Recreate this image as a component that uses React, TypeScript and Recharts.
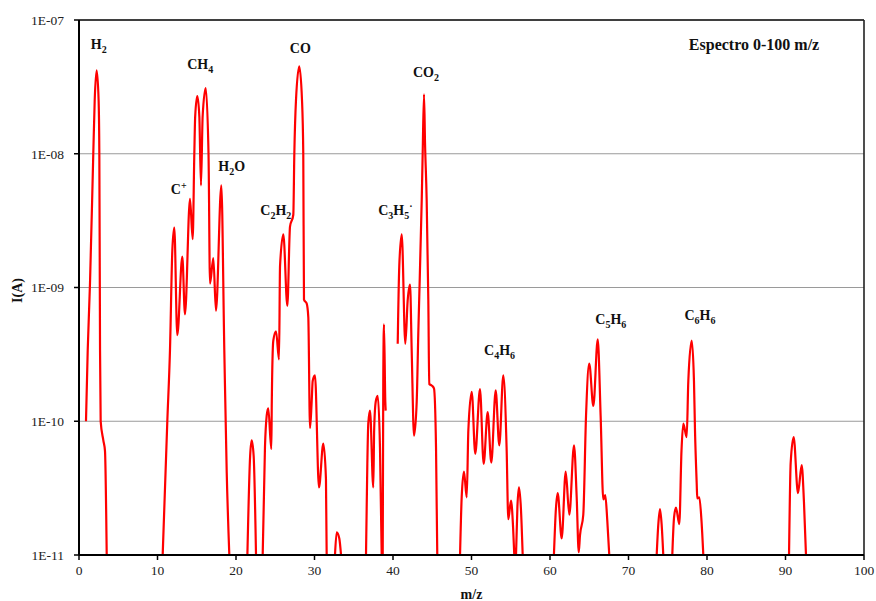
import {
  LineChart,
  Line,
  XAxis,
  YAxis,
  CartesianGrid,
  ReferenceLine,
  ReferenceDot,
} from "recharts";

type Pt = [number, number];

// [m/z, I(A)] — each band is one unbroken stretch of the trace above 1E-11
const h2Band: Pt[] = [
  [0.89, 1.0e-10], [1.11, 3.4e-10], [1.4, 1.07e-9], [1.82, 1.0e-8],
  [2.0, 2.5e-8], [2.25, 4.2e-8], [2.5, 2.5e-8], [2.59, 1.0e-8],
  [2.68, 3.4e-10], [2.76, 1.0e-10], [3.1, 7.2e-11], [3.31, 6.0e-11],
  [3.53, 1.0e-11],
];

const ch4Band: Pt[] = [
  [10.66, 1.0e-11], [11.25, 1.0e-10], [11.59, 3.4e-10], [11.89, 1.9e-9],
  [12.14, 2.8e-9], [12.52, 4.4e-10], [13.16, 1.7e-9], [13.5, 6.3e-10],
  [14.14, 4.6e-9], [14.48, 2.3e-9], [14.69, 1.0e-8], [14.8, 1.9e-8],
  [15.07, 2.7e-8], [15.33, 1.9e-8], [15.54, 5.8e-9], [15.75, 1.9e-8],
  [16.14, 3.1e-8], [16.5, 1.0e-8], [16.69, 1.07e-9], [17.11, 1.66e-9],
  [17.45, 6.7e-10], [18.13, 5.8e-9], [18.51, 3.4e-10], [18.82, 4.1e-11],
  [19.15, 1.0e-11],
];

const m22Band: Pt[] = [
  [21.45, 1.0e-11], [21.8, 5.5e-11], [22.0, 7.2e-11], [22.25, 5.5e-11],
  [22.55, 1.0e-11],
];

const coBand: Pt[] = [
  [23.4, 1.0e-11], [23.69, 6.4e-11], [23.91, 1.1e-10], [24.11, 1.25e-10],
  [24.5, 6.2e-11], [24.56, 1.4e-10], [24.75, 4.0e-10], [25.1, 4.7e-10],
  [25.48, 2.9e-10], [25.61, 1.45e-9], [26.03, 2.5e-9], [26.54, 7.3e-10],
  [26.88, 2.85e-9], [27.3, 3.5e-9], [27.43, 1.0e-8], [27.64, 2.5e-8],
  [28.06, 4.5e-8], [28.41, 2.5e-8], [28.57, 1.0e-8], [28.66, 8.1e-10],
  [29.0, 7.6e-10], [29.21, 6.0e-10], [29.43, 8.9e-11], [29.64, 1.4e-10],
  [29.77, 2.0e-10], [30.06, 2.2e-10], [30.57, 3.2e-11], [31.12, 6.8e-11],
  [31.46, 3.7e-11], [31.55, 1.0e-11],
];

const m33Band: Pt[] = [
  [32.61, 1.0e-11], [32.83, 1.48e-11], [33.16, 1.33e-11], [33.38, 1.0e-11],
];

const m37Band: Pt[] = [
  [36.56, 1.0e-11], [36.73, 4.8e-11], [36.85, 9.6e-11], [37.07, 1.2e-10],
  [37.49, 3.2e-11], [37.6, 8.6e-11], [37.8, 1.4e-10], [38.05, 1.55e-10],
  [38.34, 6.4e-11], [38.56, 1.0e-11],
];

const m39Band: Pt[] = [
  [38.69, 1.0e-11], [38.76, 2.0e-10], [38.85, 5.3e-10], [39.02, 1.4e-10],
  [39.07, 1.2e-10],
];

const co2Band: Pt[] = [
  [40.6, 3.8e-10], [40.8, 1.45e-9], [41.11, 2.5e-9], [41.57, 3.8e-10],
  [41.87, 8.0e-10], [42.17, 1.05e-9], [42.38, 3.4e-10], [42.68, 7.8e-11],
  [43.02, 1.4e-10], [43.22, 4.5e-10], [43.66, 4.5e-9], [43.78, 1.0e-8],
  [43.95, 2.78e-8], [44.08, 1.2e-8], [44.29, 4.5e-9], [44.5, 8.0e-10],
  [44.62, 1.9e-10], [44.93, 1.85e-10], [45.22, 1.76e-10], [45.48, 6.4e-11],
  [45.64, 1.0e-11],
];

const c4h6Band: Pt[] = [
  [48.54, 1.0e-11], [48.75, 2.7e-11], [49.04, 4.2e-11], [49.39, 2.7e-11],
  [49.6, 8.6e-11], [50.03, 1.66e-10], [50.48, 5.7e-11], [51.08, 1.74e-10],
  [51.55, 4.8e-11], [52.06, 1.17e-10], [52.52, 4.9e-11], [53.08, 1.7e-10],
  [53.54, 6.6e-11], [54.05, 2.2e-10], [54.47, 6.4e-11], [54.69, 1.85e-11],
  [55.03, 2.55e-11], [55.3, 1.6e-11], [55.45, 1.0e-11],
];

const m56Band: Pt[] = [
  [55.67, 1.0e-11], [55.85, 2.3e-11], [56.05, 3.2e-11], [56.3, 2.2e-11],
  [56.52, 1.0e-11],
];

const c5h6Band: Pt[] = [
  [60.5, 1.0e-11], [60.75, 2.2e-11], [60.98, 2.9e-11], [61.49, 1.33e-11],
  [62.0, 4.2e-11], [62.46, 2.0e-11], [63.06, 6.6e-11], [63.4, 2.7e-11],
  [63.66, 1.05e-11], [63.82, 1.4e-11], [64.24, 2.0e-11], [64.59, 1.1e-10],
  [65.0, 2.7e-10], [65.52, 1.3e-10], [66.08, 4.1e-10], [66.45, 1.1e-10],
  [66.79, 2.6e-11], [67.04, 2.8e-11], [67.3, 1.8e-11], [67.55, 1.0e-11],
];

const m74Band: Pt[] = [
  [73.59, 1.0e-11], [73.8, 1.7e-11], [74.01, 2.2e-11], [74.22, 1.7e-11],
  [74.43, 1.0e-11],
];

const c6h6Band: Pt[] = [
  [75.58, 1.0e-11], [75.8, 1.9e-11], [76.05, 2.26e-11], [76.47, 1.7e-11],
  [76.75, 6.0e-11], [76.98, 9.6e-11], [77.41, 7.6e-11], [77.62, 2.0e-10],
  [78.05, 4.0e-10], [78.34, 2.0e-10], [78.47, 8.6e-11], [78.69, 3.4e-11],
  [78.76, 2.65e-11], [79.02, 2.7e-11], [79.3, 1.8e-11], [79.53, 1.0e-11],
];

const m91Band: Pt[] = [
  [90.45, 1.0e-11], [90.66, 4.9e-11], [91.04, 7.6e-11], [91.59, 2.9e-11],
  [92.06, 4.7e-11], [92.35, 2.5e-11], [92.61, 1.0e-11],
];

const bands = [
  h2Band, ch4Band, m22Band, coBand, m33Band, m37Band, m39Band, co2Band,
  c4h6Band, m56Band, c5h6Band, m74Band, c6h6Band, m91Band,
];

const xTicks = [0, 10, 20, 30, 40, 50, 60, 70, 80, 90, 100];
const yTicks = [1e-11, 1e-10, 1e-9, 1e-8, 1e-7];

// "_" lowers the next character, "^" raises it
const speciesLabels = [
  { text: "H_2", mz: 2.52, current: 6.1e-8 },
  { text: "C^+", mz: 12.71, current: 5.0e-9 },
  { text: "CH_4", mz: 15.44, current: 4.27e-8 },
  { text: "H_2O", mz: 19.45, current: 7.46e-9 },
  { text: "C_2H_2", mz: 25.07, current: 3.48e-9 },
  { text: "CO", mz: 28.19, current: 5.7e-8 },
  { text: "C_3H_5^·", mz: 40.3, current: 3.48e-9 },
  { text: "CO_2", mz: 44.2, current: 3.73e-8 },
  { text: "C_4H_6", mz: 53.57, current: 3.13e-10 },
  { text: "C_5H_6", mz: 67.75, current: 5.38e-10 },
  { text: "C_6H_6", mz: 79.1, current: 5.71e-10 },
];

const titleText = "Espectro 0-100 m/z";

// null rows break the line between bands
const spectrum = bands.flatMap((band) => [
  ...band.map(([mz, current]) => ({ mz, current })),
  { mz: band[band.length - 1][0], current: null as number | null },
]);

const SERIF = "'Liberation Serif', 'Times New Roman', serif";

const formatPower = (v: number) =>
  "1E-" + String(Math.round(-Math.log10(v))).padStart(2, "0");

const SpeciesLabel = ({
  viewBox,
  text,
  size = 14,
}: {
  viewBox?: any;
  text: string;
  size?: number;
}) => {
  if (!viewBox) return null;
  const parts = text.match(/[_^].|[^_^]+/g) || [];
  let shift = 0;
  return (
    <text
      x={viewBox.x}
      y={viewBox.y}
      textAnchor="middle"
      fontFamily={SERIF}
      fontWeight="bold"
      fontSize={size}
      fill="#111"
    >
      {parts.map((p, i) => {
        const mode = p[0] === "_" ? 4 : p[0] === "^" ? -5 : 0;
        const dy = mode - shift;
        shift = mode;
        return (
          <tspan key={i} dy={dy} fontSize={mode ? 10 : size}>
            {mode ? p.slice(1) : p}
          </tspan>
        );
      })}
    </text>
  );
};

const YTitle = ({ viewBox }: { viewBox?: any }) => {
  if (!viewBox) return null;
  const cx = viewBox.x + 8;
  const cy = viewBox.y + viewBox.height / 2 + 3;
  return (
    <text
      x={cx}
      y={cy}
      transform={`rotate(-90 ${cx} ${cy})`}
      textAnchor="middle"
      dominantBaseline="central"
      fontFamily={SERIF}
      fontWeight="bold"
      fontSize={14}
      fill="#111"
    >
      I(A)
    </text>
  );
};

const XTitle = ({ viewBox }: { viewBox?: any }) => {
  if (!viewBox) return null;
  return (
    <text
      x={viewBox.x + viewBox.width / 2}
      y={viewBox.y + 44}
      textAnchor="middle"
      fontFamily={SERIF}
      fontWeight="bold"
      fontSize={14}
      fill="#111"
    >
      m/z
    </text>
  );
};

export default function App() {
  const tickStyle = { fill: "#222", fontSize: 13.5, fontFamily: SERIF };
  return (
    <div style={{ position: "absolute", left: 0, top: 0, background: "#fff" }}>
      <LineChart
        width={876}
        height={601}
        data={spectrum}
        margin={{ top: 20, right: 12, left: 9, bottom: 16 }}
      >
        <CartesianGrid vertical={false} stroke="#9a9a9a" strokeWidth={1.2} />
        <XAxis
          dataKey="mz"
          type="number"
          domain={[0, 100]}
          ticks={xTicks}
          height={30}
          tickSize={5}
          tickMargin={5}
          tick={tickStyle}
          axisLine={{ stroke: "#000", strokeWidth: 2 }}
          tickLine={{ stroke: "#000", strokeWidth: 1.5 }}
          label={<XTitle />}
        />
        <YAxis
          type="number"
          scale="log"
          domain={[1e-11, 1e-7]}
          allowDataOverflow
          ticks={yTicks}
          tickFormatter={formatPower}
          width={70}
          tickSize={5}
          tickMargin={10}
          tick={tickStyle}
          axisLine={{ stroke: "#000", strokeWidth: 2 }}
          tickLine={{ stroke: "#000", strokeWidth: 1.5 }}
          label={<YTitle />}
        />
        <ReferenceLine y={1e-7} stroke="#111" strokeWidth={1.6} />
        <ReferenceLine x={100} stroke="#222" strokeWidth={1.6} />
        <Line
          type="monotone"
          dataKey="current"
          stroke="#ff0000"
          strokeWidth={2.2}
          dot={false}
          activeDot={false}
          isAnimationActive={false}
        />
        {speciesLabels.map((s) => (
          <ReferenceDot
            key={s.text}
            x={s.mz}
            y={s.current}
            r={0}
            fill="none"
            stroke="none"
            label={<SpeciesLabel text={s.text} />}
          />
        ))}
        <ReferenceDot
          x={85.99}
          y={5.97e-8}
          r={0}
          fill="none"
          stroke="none"
          label={<SpeciesLabel text={titleText} size={16} />}
        />
      </LineChart>
    </div>
  );
}
